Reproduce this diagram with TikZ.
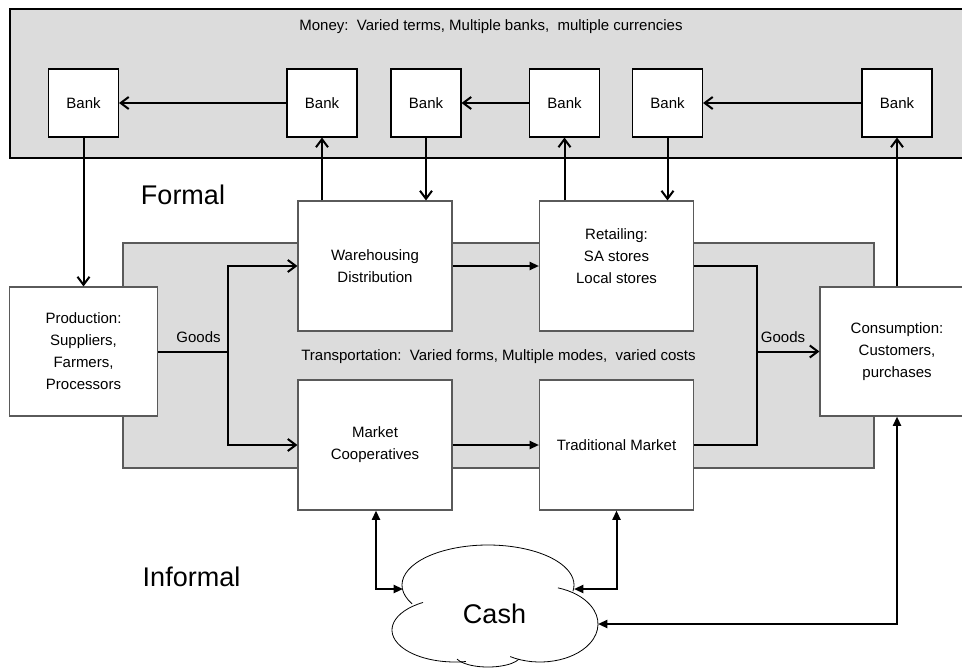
\documentclass[tikz,border=0pt]{standalone}
\usepackage{fontspec}
\setmainfont{Liberation Sans}
\usetikzlibrary{arrows.meta}
\definecolor{bandgray}{RGB}{220,220,220}
\definecolor{boxline}{RGB}{90,90,90}
\tikzset{
  band/.style={fill=bandgray, draw=black, line width=0.8pt},
  midband/.style={fill=bandgray, draw=boxline, line width=0.8pt},
  bankbox/.style={draw=black, fill=white, line width=0.8pt, minimum width=52.5pt, minimum height=51pt, inner sep=0pt, font=\fontsize{11.25}{16.5}\selectfont},
  flowbox/.style={draw=boxline, fill=white, line width=0.8pt, minimum width=115.5pt, minimum height=97.5pt, inner sep=0pt, align=center, font=\fontsize{11.25}{16.5}\selectfont},
  lbl/.style={inner sep=0pt, font=\fontsize{11.25}{16.5}\selectfont, align=center},
  biglbl/.style={inner sep=0pt, font=\fontsize{20.25}{24}\selectfont},
  conn/.style={line width=1.5pt, draw=black},
  openarr/.style={conn, -{Straight Barb[length=6pt, width=9pt, line width=1.5pt]}},
  fillarr/.style={conn, -{Triangle[length=7pt, width=6pt]}},
  bothfill/.style={conn, {Triangle[length=7pt, width=6pt]}-{Triangle[length=7pt, width=6pt]}},
  cloudline/.style={draw=black, line width=0.6pt},
}
\begin{document}
\begin{tikzpicture}[x=0.75pt, y=-0.75pt]
\clip (0,0) rectangle (962,667);
\fill[white] (0,0) rectangle (962,667);
% bands
\path[band] (10,9) rectangle (985,158);
\path[midband] (123,243) rectangle (874,468);
\node[lbl] (money) at (491,27) {Money:\ \ Varied terms, Multiple banks,\ \ multiple currencies};
\node[lbl] (transp) at (498.5,357) {Transportation:\ \ Varied forms, Multiple modes,\ \ varied costs};
% banks
\node[bankbox] (b1) at (83.5,103) {Bank};
\node[bankbox] (b2) at (322,103) {Bank};
\node[bankbox] (b3) at (426,103) {Bank};
\node[bankbox] (b4) at (564.5,103) {Bank};
\node[bankbox] (b5) at (667.5,103) {Bank};
\node[bankbox] (b6) at (897,103) {Bank};
% flow boxes
\node[flowbox, minimum width=111pt, minimum height=96.75pt] (prod) at (83.5,351.5) {Production:\\Suppliers,\\Farmers,\\Processors};
\node[flowbox] (wh) at (375,266) {Warehousing\\Distribution};
\node[flowbox] (mc) at (375,445) {Market\\Cooperatives};
\node[flowbox] (ret) at (616.5,266) {};
\node[lbl] (rettext) at (616.5,256) {Retailing:\\SA stores\\Local stores};
\node[flowbox] (tm) at (616.5,445) {Traditional Market};
\node[flowbox, minimum height=96.75pt] (cons) at (897,351.5) {Consumption:\\Customers,\\purchases};
% labels
\node[biglbl] (formal) at (183,195) {Formal};
\node[biglbl] (informal) at (191.5,577) {Informal};
\node[lbl] (goods1) at (198.5,337) {Goods};
\node[lbl] (goods2) at (783,337) {Goods};
% money flows
\draw[openarr] (b2.west) -- (b1.east);
\draw[openarr] (b4.west) -- (b3.east);
\draw[openarr] (b6.west) -- (b5.east);
\draw[openarr] (b1.south) -- (prod.north);
\draw[openarr] (wh.north -| b2.south) -- (b2.south);
\draw[openarr] (b3.south) -- (wh.north -| b3.south);
\draw[openarr] (ret.north -| b4.south) -- (b4.south);
\draw[openarr] (b5.south) -- (ret.north -| b5.south);
\draw[openarr] (cons.north) -- (b6.south);
% goods flows
\coordinate (j1) at (228,351.5);
\coordinate (j2) at (757,351.5);
\draw[conn] (prod.east) -- (j1);
\draw[openarr] (j1) |- (wh.west);
\draw[openarr] (j1) |- (mc.west);
\draw[fillarr] (wh.east) -- (ret.west);
\draw[fillarr] (mc.east) -- (tm.west);
\draw[conn] (ret.east) -| (j2);
\draw[conn] (tm.east) -| (j2);
\draw[openarr] (j2) -- (cons.west);
% cloud
\fill[white] (488,585) ellipse [x radius=86, y radius=40];
\fill[white] (455,630) ellipse [x radius=63, y radius=32];
\fill[white] (540,624) ellipse [x radius=58, y radius=38];
\fill[white] (488,655) ellipse [x radius=33, y radius=12];
\draw[cloudline] (488,585) ++(152:86 and 40) arc [start angle=152, end angle=369, x radius=86, y radius=40];
\draw[cloudline] (455,630) ++(239.5:63 and 32) arc [start angle=239.5, end angle=80, x radius=63, y radius=32];
\draw[cloudline] (488,655) ++(160:33 and 12) arc [start angle=160, end angle=20, x radius=33, y radius=12];
\draw[cloudline] (540,624) ++(121:58 and 38) arc [start angle=121, end angle=-72, x radius=58, y radius=38];
\node[biglbl] (cash) at (494.5,614) {Cash};
\coordinate (cl1) at (403,589);
\coordinate (cl2) at (574,589);
\coordinate (cl3) at (598,624);
% cash flows
\draw[bothfill] (mc.south -| 376,0) |- (cl1);
\draw[bothfill] (tm.south) |- (cl2);
\draw[bothfill] (cons.south) |- (cl3);
\end{tikzpicture}
\end{document}
